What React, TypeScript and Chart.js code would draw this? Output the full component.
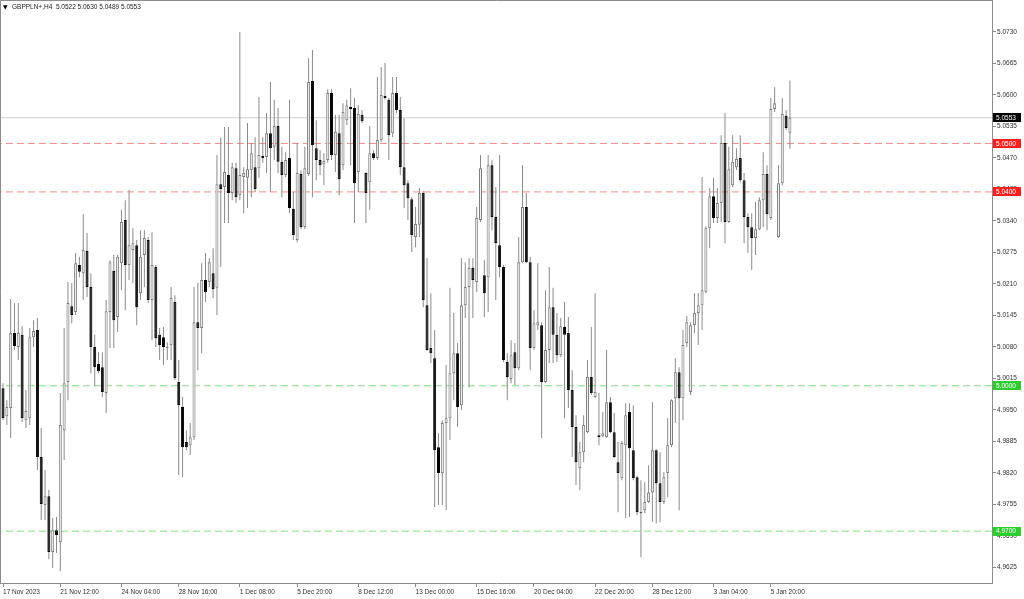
import React, { useEffect, useRef } from "react";
import { Chart, registerables } from "chart.js";

Chart.register(...registerables);

const symbolName = "GBPPLN+,H4";

const opens = [
  4.9995, 4.9937, 4.9954, 5.0109, 5.0080, 5.0105, 4.9929, 4.9933, 5.0100, 5.0115,
  4.9853, 4.9754, 4.9772, 4.9657, 4.9702, 4.9677, 4.9908, 5.0008, 5.0164, 5.0152,
  5.0249, 5.0232, 5.0278, 5.0204, 5.0080, 5.0045, 5.0038, 4.9985, 5.0152, 5.0237,
  5.0142, 5.0253, 5.0342, 5.0249, 5.0280, 5.0290, 5.0191, 5.0270, 5.0301, 5.0177,
  5.0245, 5.0105, 5.0100, 5.0078,
  5.0084, 5.0173, 5.0008, 4.9956, 4.9884, 4.9877, 4.9894, 5.0131, 5.0119, 5.0218,
  5.0214, 5.0232, 5.0202, 5.0416, 5.0410, 5.0435, 5.0398, 5.0449, 5.0393, 5.0431,
  5.0429, 5.0445, 5.0451, 5.0449, 5.0474, 5.0472, 5.0521, 5.0493, 5.0536, 5.0462,
  5.0435, 5.0470, 5.0365, 5.0301, 5.0437, 5.0327, 5.0437, 5.0629, 5.0490,
  5.0466, 5.0457, 5.0466, 5.0604, 5.0476, 5.0521, 5.0455, 5.0548, 5.0575, 5.0573,
  5.0441, 5.0559, 5.0439, 5.0420, 5.0480, 5.0470, 5.0507, 5.0598, 5.0590, 5.0521,
  5.0604, 5.0569, 5.0451, 5.0418, 5.0385, 5.0307, 5.0332, 5.0398, 5.0166, 5.0078,
  5.0057, 4.9873, 4.9820, 4.9923, 4.9933, 5.0026, 5.0067, 4.9960, 5.0166, 5.0204,
  5.0243, 5.0214,
  5.0342, 5.0228, 5.0224, 5.0455, 5.0348, 5.0290, 5.0245, 5.0049, 5.0014, 5.0069,
  5.0036, 5.0255, 5.0369, 5.0255, 5.0078, 5.0125, 5.0125, 5.0008, 5.0074, 5.0162,
  5.0105, 5.0063, 5.0121, 5.0109, 4.9991, 4.9915, 4.9830, 4.9863, 4.9904, 5.0018,
  4.9977, 4.9898, 4.9896, 4.9894, 4.9966, 4.9904, 4.9842, 4.9809, 4.9877, 4.9946,
  4.9867, 4.9811,
  4.9739, 4.9743, 4.9760, 4.9780, 4.9867, 4.9799, 4.9760, 4.9820, 4.9877, 4.9974,
  5.0028, 4.9974, 5.0088, 4.9987, 5.0125, 5.0150, 5.0166, 5.0193, 5.0325, 5.0391,
  5.0346, 5.0377, 5.0501, 5.0338, 5.0414, 5.0451, 5.0470, 5.0424, 5.0348, 5.0327,
  5.0305, 5.0323, 5.0383, 5.0437, 5.0346, 5.0571, 5.0307, 5.0418, 5.0557, 5.0522,
];

const highs = [
  5.0005, 4.9970, 5.0179, 5.0171, 5.0171, 5.0123, 4.9991, 5.0119, 5.0135, 5.0140,
  4.9913, 4.9826, 4.9785, 4.9727, 4.9729, 4.9985, 5.0119, 5.0214, 5.0212, 5.0274,
  5.0266, 5.0354, 5.0315, 5.0232, 5.0105, 5.0069, 5.0069, 5.0177, 5.0259, 5.0270,
  5.0270, 5.0363, 5.0383, 5.0404, 5.0325, 5.0301, 5.0321, 5.0321, 5.0307, 5.0317,
  5.0249, 5.0119, 5.0121, 5.0090,
  5.0204, 5.0187, 5.0053, 4.9977, 4.9908, 4.9923, 5.0204, 5.0212, 5.0253, 5.0274,
  5.0263, 5.0284, 5.0476, 5.0513, 5.0534, 5.0534, 5.0460, 5.0460, 5.0730, 5.0451,
  5.0542, 5.0501, 5.0513, 5.0596, 5.0513, 5.0563, 5.0627, 5.0590, 5.0573, 5.0493,
  5.0482, 5.0590, 5.0400, 5.0501, 5.0445, 5.0493, 5.0676, 5.0693, 5.0548,
  5.0486, 5.0480, 5.0612, 5.0612, 5.0559, 5.0559, 5.0583, 5.0590, 5.0614, 5.0594,
  5.0579, 5.0569, 5.0441, 5.0536, 5.0486, 5.0637, 5.0658, 5.0666, 5.0594, 5.0637,
  5.0637, 5.0596, 5.0552, 5.0424, 5.0389, 5.0369, 5.0408, 5.0402, 5.0263, 5.0191,
  5.0115, 4.9902, 4.9929, 5.0043, 5.0202, 5.0150, 5.0088, 5.0263, 5.0255, 5.0263,
  5.0263, 5.0369,
  5.0476, 5.0259, 5.0476, 5.0466, 5.0410, 5.0476, 5.0249, 5.0067, 5.0094, 5.0088,
  5.0307, 5.0455, 5.0398, 5.0266, 5.0156, 5.0253, 5.0131, 5.0197, 5.0245, 5.0202,
  5.0150, 5.0140, 5.0173, 5.0142, 5.0032, 4.9939, 4.9884, 4.9939, 5.0053, 5.0121,
  5.0191, 4.9985, 4.9946, 5.0074, 4.9977, 4.9944, 4.9884, 4.9886, 4.9964, 4.9964,
  4.9960, 4.9815,
  4.9805, 4.9801, 4.9836, 4.9966, 4.9869, 4.9863, 4.9822, 4.9933, 4.9972, 5.0057,
  5.0038, 5.0115, 5.0144, 5.0131, 5.0191, 5.0191, 5.0431, 5.0329, 5.0408, 5.0429,
  5.0408, 5.0517, 5.0563, 5.0493, 5.0517, 5.0490, 5.0517, 5.0439, 5.0356, 5.0356,
  5.0379, 5.0389, 5.0482, 5.0455, 5.0594, 5.0616, 5.0455, 5.0594, 5.0569, 5.0630,
];

const lows = [
  4.9929, 4.9919, 4.9892, 5.0074, 5.0053, 4.9925, 4.9913, 4.9919, 5.0080, 4.9826,
  4.9723, 4.9723, 4.9642, 4.9624, 4.9655, 4.9617, 4.9847, 4.9970, 5.0129, 5.0146,
  5.0224, 5.0177, 5.0183, 5.0026, 4.9999, 5.0026, 4.9977, 4.9944, 5.0078, 5.0078,
  5.0111, 5.0197, 5.0156, 5.0218, 5.0212, 5.0125, 5.0177, 5.0204, 5.0171, 5.0094,
  5.0080, 5.0053, 5.0043, 5.0053,
  5.0053, 5.0012, 4.9816, 4.9811, 4.9867, 4.9857, 4.9888, 5.0032, 5.0067, 5.0173,
  5.0204, 5.0181, 5.0146, 5.0245, 5.0336, 5.0336, 5.0383, 5.0377, 5.0383, 5.0356,
  5.0367, 5.0389, 5.0400, 5.0429, 5.0460, 5.0439, 5.0400, 5.0466, 5.0439, 5.0389,
  5.0431, 5.0356, 5.0301, 5.0296, 5.0323, 5.0323, 5.0433, 5.0389, 5.0424,
  5.0435, 5.0414, 5.0460, 5.0466, 5.0441, 5.0393, 5.0445, 5.0538, 5.0455, 5.0336,
  5.0400, 5.0542, 5.0336, 5.0363, 5.0466, 5.0466, 5.0503, 5.0590, 5.0466, 5.0513,
  5.0563, 5.0435, 5.0367, 5.0342, 5.0276, 5.0286, 5.0307, 5.0162, 5.0072, 5.0047,
  4.9750, 4.9754, 4.9754, 4.9743, 4.9888, 4.9970, 4.9915, 4.9950, 5.0140, 4.9997,
  5.0140, 5.0193,
  5.0338, 5.0142, 5.0152, 5.0321, 5.0177, 5.0224, 5.0049, 4.9970, 5.0005, 5.0001,
  5.0032, 5.0253, 5.0253, 5.0032, 5.0074, 5.0115, 4.9892, 5.0005, 5.0047, 5.0047,
  5.0049, 5.0059, 4.9933, 4.9954, 4.9853, 4.9795, 4.9785, 4.9842, 4.9902, 4.9981,
  4.9974, 4.9877, 4.9894, 4.9892, 4.9902, 4.9851, 4.9739, 4.9805, 4.9727, 4.9729,
  4.9805, 4.9733,
  4.9646, 4.9737, 4.9758, 4.9719, 4.9716, 4.9719, 4.9756, 4.9770, 4.9873, 4.9923,
  4.9743, 4.9929, 5.0080, 4.9981, 5.0109, 5.0084, 5.0115, 5.0191, 5.0284, 5.0336,
  5.0336, 5.0338, 5.0294, 5.0336, 5.0410, 5.0445, 5.0420, 5.0294, 5.0274, 5.0239,
  5.0270, 5.0321, 5.0327, 5.0321, 5.0342, 5.0565, 5.0305, 5.0414, 5.0528, 5.0489,
];

const closes = [
  4.9933, 4.9956, 5.0109, 5.0082, 5.0109, 4.9933, 4.9948, 5.0100, 5.0113, 4.9853,
  4.9756, 4.9772, 4.9657, 4.9702, 4.9692, 4.9919, 5.0005, 5.0171, 5.0146, 5.0253,
  5.0235, 5.0280, 5.0204, 5.0080, 5.0038, 5.0030, 4.9987, 5.0154, 5.0255, 5.0135,
  5.0266, 5.0338, 5.0249, 5.0290, 5.0294, 5.0162, 5.0266, 5.0305, 5.0177, 5.0249,
  5.0098, 5.0084, 5.0080, 5.0080,
  5.0181, 5.0016, 4.9960, 4.9873, 4.9873, 4.9894, 5.0131, 5.0119, 5.0218, 5.0193,
  5.0255, 5.0199, 5.0416, 5.0406, 5.0441, 5.0398, 5.0451, 5.0389, 5.0435, 5.0439,
  5.0447, 5.0480, 5.0406, 5.0476, 5.0470, 5.0521, 5.0490, 5.0536, 5.0462, 5.0435,
  5.0466, 5.0367, 5.0311, 5.0439, 5.0327, 5.0449, 5.0627, 5.0497, 5.0466,
  5.0455, 5.0464, 5.0604, 5.0476, 5.0524, 5.0426, 5.0565, 5.0579, 5.0571, 5.0418,
  5.0561, 5.0546, 5.0398, 5.0480, 5.0470, 5.0507, 5.0600, 5.0594, 5.0517, 5.0604,
  5.0569, 5.0451, 5.0414, 5.0387, 5.0311, 5.0334, 5.0398, 5.0177, 5.0074, 5.0067,
  4.9867, 4.9820, 4.9923, 4.9933, 5.0026, 5.0067, 4.9956, 5.0166, 5.0204, 5.0243,
  5.0218, 5.0346,
  5.0449, 5.0191, 5.0455, 5.0348, 5.0294, 5.0245, 5.0053, 5.0018, 5.0063, 5.0036,
  5.0255, 5.0369, 5.0255, 5.0078, 5.0129, 5.0131, 5.0008, 5.0074, 5.0162, 5.0105,
  5.0063, 5.0123, 5.0105, 4.9991, 4.9915, 4.9842, 4.9863, 4.9919, 5.0018, 4.9985,
  4.9987, 4.9894, 4.9902, 4.9966, 4.9904, 4.9853, 4.9820, 4.9882, 4.9939, 4.9871,
  4.9809, 4.9739,
  4.9737, 4.9760, 4.9780, 4.9867, 4.9799, 4.9760, 4.9811, 4.9877, 4.9970, 5.0028,
  4.9974, 5.0084, 5.0131, 5.0125, 5.0150, 5.0166, 5.0197, 5.0325, 5.0391, 5.0346,
  5.0377, 5.0501, 5.0338, 5.0447, 5.0462, 5.0468, 5.0424, 5.0348, 5.0327, 5.0305,
  5.0323, 5.0383, 5.0437, 5.0354, 5.0571, 5.0583, 5.0418, 5.0561, 5.0532, 5.0553,
];

const timeLabels = [
  "17 Nov 2023", "21 Nov 12:00", "24 Nov 04:00", "28 Nov 16:00", "1 Dec 08:00",
  "5 Dec 20:00", "8 Dec 12:00", "13 Dec 00:00", "15 Dec 16:00", "20 Dec 04:00",
  "22 Dec 20:00", "28 Dec 12:00", "3 Jan 04:00", "5 Jan 20:00",
];
const timeLabelBars = [0, 15, 31, 46, 62, 77, 93, 108, 124, 139, 155, 170, 186, 201];

const priceTicks = [
  4.9625, 4.969, 4.9755, 4.982, 4.9885, 4.995, 5.0015, 5.008, 5.0145,
  5.021, 5.0275, 5.034, 5.0405, 5.047, 5.0535, 5.06, 5.0665, 5.073,
];

const redLevels = [5.05, 5.04];
const greenLevels = [5.0, 4.97];

const FONT = "'Liberation Sans', Arial, 'DejaVu Sans', sans-serif";

export default function App() {
  const canvasRef = useRef<HTMLCanvasElement | null>(null);

  useEffect(() => {
    const canvas = canvasRef.current;
    if (!canvas) return;
    const n = closes.length;
    const idx = closes.map((_, i) => i);
    const isBull = idx.map((i) => closes[i] >= opens[i]);
    const lastPrice = closes[n - 1];

    const lineDs = (v: number, color: string, dash: number[]) => ({
      type: "line" as const,
      data: [
        { x: -5, y: v },
        { x: 300, y: v },
      ],
      borderColor: color,
      borderWidth: 1,
      borderDash: dash,
      pointRadius: 0,
      fill: false,
      tension: 0,
      order: 10,
    });

    const overlay = {
      id: "overlay",
      afterDraw(chart: any) {
        const { ctx, chartArea, scales } = chart;
        const ys = scales.y;
        ctx.save();
        ctx.strokeStyle = "#8c8c8c";
        ctx.lineWidth = 1;
        ctx.beginPath();
        ctx.moveTo(0.5, chartArea.bottom);
        ctx.lineTo(0.5, 0.5);
        ctx.lineTo(chartArea.right, 0.5);
        ctx.stroke();

        ctx.textBaseline = "middle";
        ctx.textAlign = "left";
        ctx.fillStyle = "#000";
        ctx.font = `6px 'DejaVu Sans', sans-serif`;
        ctx.fillText("▼", 3, 7);
        ctx.font = `6.5px ${FONT}`;
        ctx.fillStyle = "#222";
        ctx.fillText(
          `${symbolName}  ${opens[n - 1].toFixed(4)} ${highs[n - 1].toFixed(4)} ${lows[n - 1].toFixed(4)} ${closes[n - 1].toFixed(4)}`,
          12,
          7
        );

        const tag = (v: number, bg: string) => {
          const py = ys.getPixelForValue(v);
          ctx.fillStyle = bg;
          ctx.fillRect(chartArea.right + 1, Math.round(py - 4.5), 28, 9);
          ctx.fillStyle = "#fff";
          ctx.fillText(v.toFixed(4), chartArea.right + 4, py + 0.5);
        };
        redLevels.forEach((v) => tag(v, "#ff1f1f"));
        greenLevels.forEach((v) => tag(v, "#2ecc2e"));
        tag(lastPrice, "#000");
        ctx.restore();
      },
    };

    const chart = new Chart(canvas, {
      type: "bar",
      data: {
        datasets: [
          lineDs(lastPrice, "#cfcfcf", []),
          ...redLevels.map((v) => lineDs(v, "#f08c8c", [7, 4])),
          ...greenLevels.map((v) => lineDs(v, "#86dc86", [7, 4])),
          {
            type: "bar" as const,
            data: idx.map((i) => ({ x: i, y: [lows[i], highs[i]] })),
            backgroundColor: "#8a8a8a",
            borderWidth: 0,
            barThickness: 1,
            grouped: false,
            inflateAmount: 0,
            order: 2,
          },
          {
            type: "bar" as const,
            data: idx.map((i) => ({ x: i, y: [opens[i], closes[i]] })),
            backgroundColor: isBull.map((b) => (b ? "#f4f4f4" : "#000000")),
            borderColor: isBull.map((b) => (b ? "#7d7d7d" : "#000000")),
            borderWidth: 1,
            borderSkipped: false,
            barThickness: 3,
            minBarLength: 1,
            grouped: false,
            inflateAmount: 0,
            order: 1,
          },
        ] as any,
      },
      options: {
        responsive: false,
        maintainAspectRatio: false,
        animation: false,
        layout: { padding: 0 },
        plugins: {
          legend: { display: false },
          tooltip: { enabled: false },
          title: { display: false },
        },
        scales: {
          x: {
            type: "linear",
            position: "bottom",
            min: -0.79,
            max: 258.9,
            offset: false,
            bounds: "data",
            grid: { drawOnChartArea: false, drawTicks: true, tickLength: 4, color: "#8c8c8c", offset: false },
            border: { display: true, color: "#8c8c8c" },
            ticks: {
              autoSkip: false,
              maxRotation: 0,
              minRotation: 0,
              align: "start",
              padding: 1,
              color: "#333",
              font: { family: FONT, size: 6.5 },
              callback: (_v: any, i: number) => timeLabels[i] ?? "",
            },
            afterBuildTicks: (s: any) => {
              s.ticks = timeLabelBars.map((v) => ({ value: v }));
            },
            afterFit: (s: any) => {
              s.height = 16;
              s.paddingLeft = 0;
              s.paddingRight = 0;
            },
          },
          y: {
            type: "linear",
            position: "right",
            min: 4.9593,
            max: 5.0796,
            beginAtZero: false,
            bounds: "data",
            grid: { drawOnChartArea: false, drawTicks: true, tickLength: 4, color: "#8c8c8c" },
            border: { display: true, color: "#8c8c8c" },
            ticks: {
              autoSkip: false,
              padding: 1,
              color: "#333",
              font: { family: FONT, size: 6.5 },
              callback: (v: any) => Number(v).toFixed(4),
            },
            afterBuildTicks: (s: any) => {
              s.ticks = priceTicks.map((v) => ({ value: v }));
            },
            afterFit: (s: any) => {
              s.width = 32;
              s.paddingTop = 0;
              s.paddingBottom = 0;
            },
          },
        } as any,
      },
      plugins: [overlay],
    });

    return () => chart.destroy();
  }, []);

  return (
    <div style={{ position: "fixed", left: 0, top: 0, width: 1024, height: 599, background: "#fff" }}>
      <canvas ref={canvasRef} width={1024} height={599} style={{ display: "block" }} />
    </div>
  );
}
